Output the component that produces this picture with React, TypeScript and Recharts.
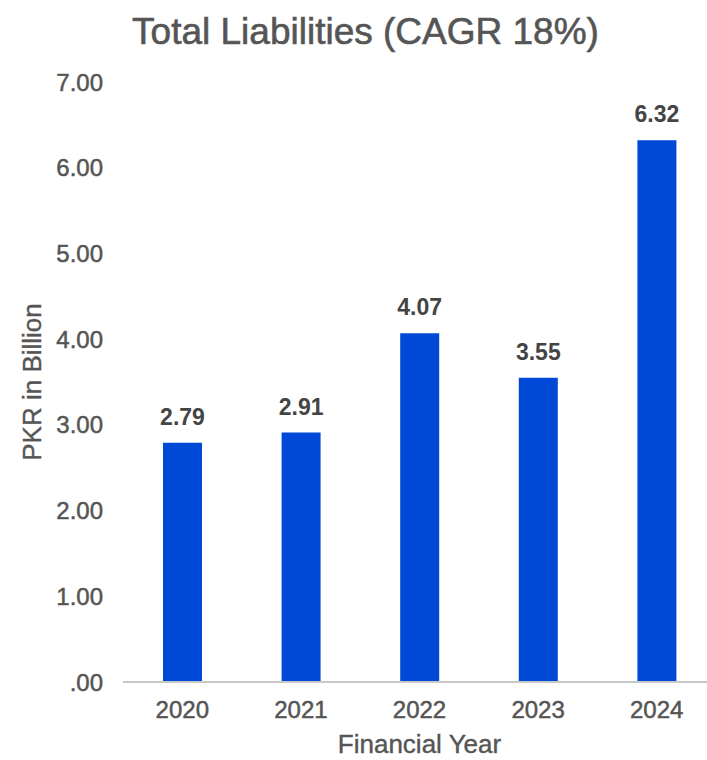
import { BarChart, Bar, XAxis, YAxis, LabelList, Label } from 'recharts';

const years = ['2020', '2021', '2022', '2023', '2024'];
const liabilities = [2.79, 2.91, 4.07, 3.55, 6.32];
const yTicks = [0, 1, 2, 3, 4, 5, 6, 7];

const data = years.map((year, i) => ({ year, value: liabilities[i] }));

const font = '"Liberation Sans", Arial, Helvetica, sans-serif';
const gray = '#555';

// slight stroke gives the medium weight of the original
const tickStyle = { fill: gray, stroke: gray, strokeWidth: 0.5, fontSize: 24, fontFamily: font };
const axisTitleStyle = { fill: gray, stroke: gray, strokeWidth: 0.4, fontSize: 26, fontFamily: font };

const fmtTick = (v: number) => (v === 0 ? '.00' : v.toFixed(2));

export default function App() {
  return (
    <div
      style={{
        position: 'absolute',
        left: 0,
        top: 0,
        width: 707,
        height: 760,
        overflow: 'hidden',
        background: '#fff',
        fontFamily: font,
      }}
    >
      <div
        style={{
          position: 'absolute',
          top: 8,
          left: 0,
          width: 731,
          textAlign: 'center',
          fontSize: 37,
          color: gray,
          lineHeight: '48px',
          WebkitTextStroke: '0.6px #555',
        }}
      >
        Total Liabilities (CAGR 18%)
      </div>
      <BarChart
        width={720}
        height={760}
        data={data}
        margin={{ top: 82, right: 4, left: 0, bottom: 0 }}
      >
        <XAxis
          dataKey="year"
          height={78}
          axisLine={{ stroke: '#c8c8c8', strokeWidth: 2 }}
          tickLine={false}
          tickMargin={13}
          tick={tickStyle}
        >
          <Label value="Financial Year" position="insideBottom" offset={7} style={axisTitleStyle} />
        </XAxis>
        <YAxis
          width={123}
          domain={[0, 7]}
          ticks={yTicks}
          tickFormatter={fmtTick}
          axisLine={false}
          tickLine={false}
          tickMargin={14}
          tick={tickStyle}
        >
          <Label
            content={(props: any) => {
              const vb = props.viewBox || {};
              const cy = vb.y + vb.height / 2;
              return (
                <text
                  x={32}
                  y={cy}
                  transform={`rotate(-90 32 ${cy})`}
                  textAnchor="middle"
                  dominantBaseline="central"
                  style={axisTitleStyle}
                >
                  PKR in Billion
                </text>
              );
            }}
          />
        </YAxis>
        <Bar dataKey="value" fill="#0048d6" barSize={39} isAnimationActive={false}>
          <LabelList
            dataKey="value"
            position="top"
            offset={18}
            formatter={(v: any) => Number(v).toFixed(2)}
            style={{ fill: '#444', fontSize: 23, fontWeight: 'bold', fontFamily: font }}
          />
        </Bar>
      </BarChart>
    </div>
  );
}
